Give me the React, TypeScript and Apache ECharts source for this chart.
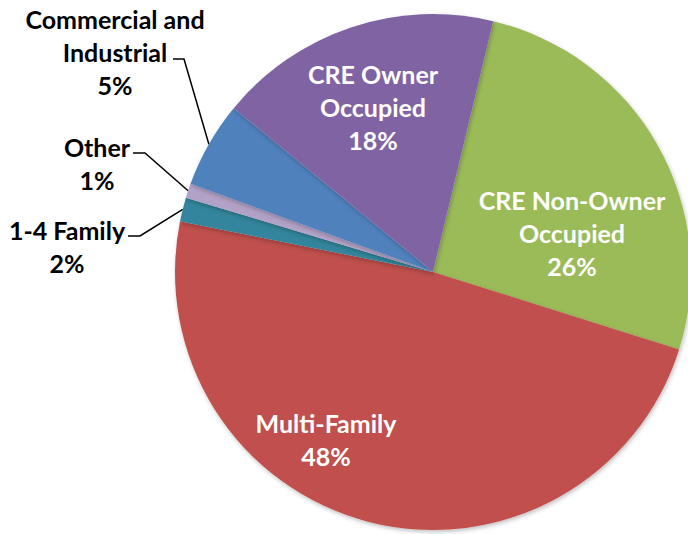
import React, { useEffect, useRef } from "react";
import * as echarts from "echarts";

const CATEGORIES = [
  "CRE Non-Owner\nOccupied",
  "Multi-Family",
  "1-4 Family",
  "Other",
  "Commercial and\nIndustrial",
  "CRE Owner\nOccupied",
];
const VALUES = [26.1, 48.3, 1.5, 0.9, 5.4, 17.8];
const COLORS = ["#9BBB59", "#C0504D", "#31859C", "#B3A2C7", "#4F81BD", "#8064A2"];
const INSIDE = [true, true, false, false, false, true];

// label block centres (layout only)
const LABEL_POS: Record<number, { x: number; y: number; bend?: [number, number]; end?: [number, number] }> = {
  0: { x: 572, y: 233 },
  1: { x: 326, y: 439 },
  2: { x: 67, y: 246, bend: [140, 236], end: [128, 236] },
  3: { x: 97, y: 163, bend: [145, 153], end: [133, 153] },
  4: { x: 115, y: 52, bend: [184, 59], end: [173, 59] },
  5: { x: 373, y: 107 },
};

const FONT = "Lato, 'Noto Sans', 'DejaVu Sans', sans-serif";

export default function App() {
  const ref = useRef<HTMLDivElement>(null);
  useEffect(() => {
    document.body.style.margin = "0";
    if (!ref.current) return;
    const chart = echarts.init(ref.current, null, { renderer: "svg" });
    const data = CATEGORIES.map((name, i) => ({
      name,
      value: VALUES[i],
      itemStyle: { color: COLORS[i] },
      label: INSIDE[i]
        ? { position: "inside", color: "#FFFFFF" }
        : { position: "outside", color: "#000000" },
      labelLine: INSIDE[i]
        ? { show: false }
        : { show: true, lineStyle: { color: "#000000", width: 1.5 } },
    }));
    chart.setOption({
      animation: false,
      backgroundColor: "#FFFFFF",
      series: [
        {
          type: "pie",
          center: [433, 272],
          radius: 258,
          startAngle: 76.5,
          clockwise: true,
          avoidLabelOverlap: false,
          data,
          itemStyle: {
            borderWidth: 0,
            shadowBlur: 4,
            shadowOffsetX: 1,
            shadowOffsetY: 2,
            shadowColor: "rgba(0,0,0,0.25)",
          },
          label: {
            show: true,
            fontFamily: FONT,
            fontWeight: "bold",
            fontSize: 25,
            lineHeight: 33,
            formatter: (p: any) => `${p.name}\n${Math.round(p.percent)}%`,
          },
          emphasis: { disabled: true },
          labelLayout: (p: any) => {
            const cfg = LABEL_POS[p.dataIndex];
            if (!cfg) return {};
            const out: any = { x: cfg.x, y: cfg.y, align: "center", verticalAlign: "middle" };
            if (cfg.bend && cfg.end && p.labelLinePoints) {
              out.labelLinePoints = [p.labelLinePoints[0], cfg.bend, cfg.end];
            }
            return out;
          },
        },
      ],
    });
    return () => chart.dispose();
  }, []);
  return <div ref={ref} style={{ width: 688, height: 534 }} />;
}
